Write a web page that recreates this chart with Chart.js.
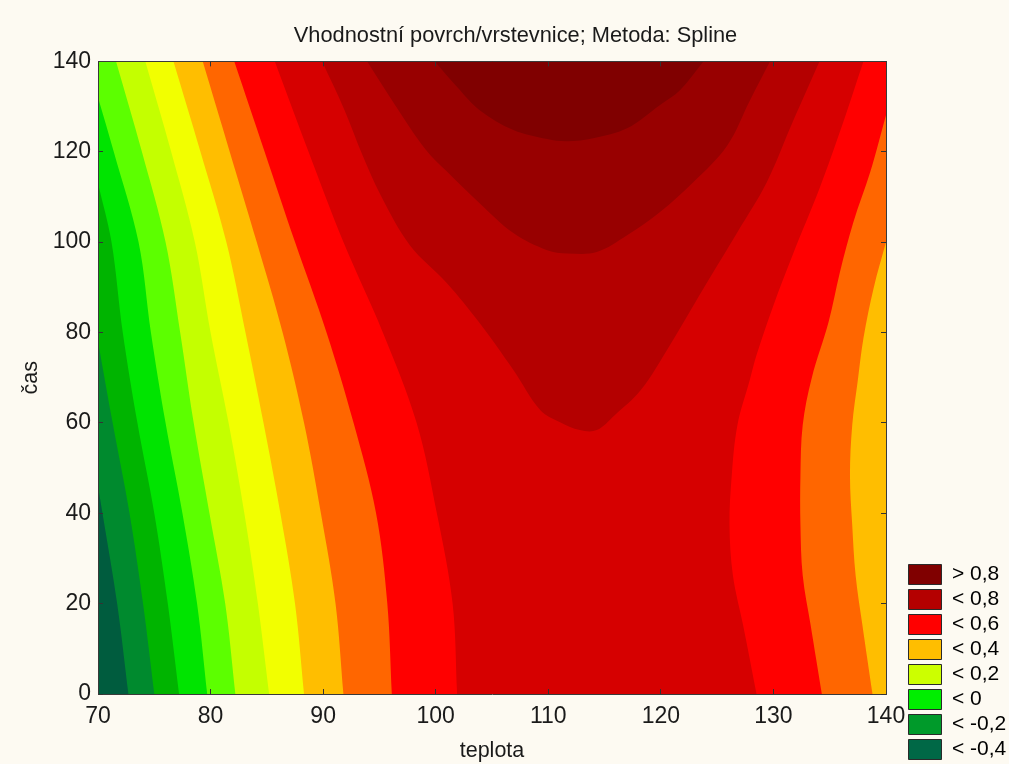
<!DOCTYPE html>
<html>
<head>
<meta charset="utf-8">
<title>Vhodnostní povrch</title>
<script src="https://cdn.jsdelivr.net/npm/chart.js@4.4.1/dist/chart.umd.min.js"></script>
<style>
  html, body { margin: 0; padding: 0; background: #fdfaf2; }
  #wrap { width: 1009px; height: 764px; }
</style>
</head>
<body>
<div id="wrap"><canvas id="chart" width="1009" height="764"></canvas></div>
<script>
// axis ranges
const teplotaRange = [70, 140];
const casRange = [0, 140];

// fill colours of the contour bands, lowest level first
const bandColors = ['#005c3e', '#008a2e', '#00b400', '#00e400', '#5cff00', '#c4ff00', '#f2ff00',
                    '#ffbe00', '#ff6600', '#ff0000', '#d60000', '#b40000', '#980000', '#800000'];

const legendLabels = ['> 0,8', '< 0,8', '< 0,6', '< 0,4', '< 0,2', '< 0', '< -0,2', '< -0,4'];
const legendColors = ['#800000', '#b40000', '#ff0000', '#ffbe00', '#ccff00', '#00ee00', '#009a2a', '#006846'];

// isolines as [teplota, čas] pairs
// left-hand lines, from čas = 0 upwards (some end on the left edge)
const iso1 = [[72.7, 0], [71.7, 20], [70.4, 40], [70, 46]];
const iso2 = [[75.0, 0], [74.0, 20], [72.8, 40], [71.3, 60], [70, 78]];
const iso3 = [[77.2, 0], [76.2, 20], [75.0, 40], [73.5, 60], [72.2, 80], [71.2, 100], [70, 113]];
const iso4 = [[79.7, 0], [78.8, 20], [77.5, 40], [76.0, 60], [74.7, 80], [73.6, 100], [71.4, 120], [70, 132]];
const iso5 = [[82.2, 0], [81.3, 20], [79.9, 40], [78.5, 60], [77.3, 80], [76.0, 100], [73.9, 120], [71.6, 140]];
const iso6 = [[85.2, 0], [84.2, 20], [83.0, 40], [81.6, 60], [80.0, 80], [78.6, 100], [76.5, 120], [74.2, 140]];
const iso7 = [[88.3, 0], [87.5, 20], [86.2, 40], [84.7, 60], [83.1, 80], [81.4, 100], [79.1, 120], [76.7, 140]];
const iso8L = [[91.8, 0], [91.1, 20], [89.8, 40], [88.3, 60], [86.4, 80], [84.1, 100], [81.7, 120], [79.3, 140]];
const iso9L = [[96.1, 0], [95.7, 20], [94.7, 40], [92.7, 60], [90.3, 80], [87.5, 100], [84.8, 120], [82.1, 140]];
const iso10L = [[101.9, 0], [101.5, 20], [100.1, 40], [98.3, 60], [95.3, 80], [91.8, 100], [88.7, 120], [85.7, 140]];

// right-hand lines, from the top downwards
const iso8R = [[140, 100], [138.9, 89.8], [138.0, 78.8], [137.5, 69.5], [137.0, 59.5], [136.8, 48.4],
               [137.0, 37.4], [137.3, 26.3], [137.9, 15.3], [138.8, 0]];
const iso9R = [[140, 128.1], [138.6, 115.5], [137.1, 104.4], [135.9, 93.3], [134.9, 82.3], [133.4, 69.9],
               [132.6, 59.5], [132.4, 48.4], [132.4, 37.4], [132.6, 26.3], [133.3, 15.3], [134.3, 0]];
const iso10R = [[138.0, 140], [136.2, 126.5], [134.1, 111.9], [131.7, 97.1], [130.0, 86.0], [128.5, 75.0],
                [127.9, 69.5], [126.8, 59.5], [126.3, 48.4], [126.1, 37.4], [126.4, 26.3], [127.3, 15.3], [128.5, 0]];

// U-shaped lines hanging from the top edge
const iso11 = [[89.9, 140], [91.9, 129.2], [93.5, 119.2], [95.1, 110.4], [97.7, 99.3], [101.0, 90.9],
               [103.9, 82.1], [106.9, 71.7], [109.3, 62.8], [111.0, 60.2], [112.8, 58.4], [114.3, 58.4],
               [115.9, 61.7], [118.2, 67.2], [120.8, 77.2], [123.8, 89.8], [126.8, 102.2], [129.4, 113.2],
               [131.7, 126.5], [134.1, 140]];
const iso12 = [[93.9, 140], [96.4, 130.3], [99.1, 120.5], [101.0, 115.6], [103.9, 108.6], [106.9, 102.0],
               [109.9, 98.2], [111.7, 97.5], [114.3, 97.8], [117.0, 101.5], [119.9, 106.6], [122.9, 113.3],
               [125.9, 121.4], [127.9, 131.3], [129.7, 140]];
const iso13 = [[99.9, 140], [101.9, 134.3], [103.9, 129.2], [106.9, 124.8], [109.9, 122.8], [111.7, 122.3],
               [114.0, 123.0], [117.0, 125.2], [119.9, 130.3], [121.7, 133.6], [123.8, 140]];

const [x0, x1] = teplotaRange;
const [y0, y1] = casRange;

// doubling the end points keeps the spline from bulging where a line meets the frame
const pin = (line) => [line[0], ...line, line[line.length - 1]];
const corner = (x, y) => [[x, y], [x, y]];

// area to the right of a left-hand line
function rightOf(line) {
  let pts = pin(line);
  if (line[line.length - 1][0] === x0) pts = pts.concat(corner(x0, y1));
  return pts.concat(corner(x1, y1), corner(x1, y0));
}

// area between a left-hand and a right-hand line
function between(left, right) {
  let pts = pin(left);
  if (right[0][1] < y1) pts = pts.concat(corner(x1, y1));
  return pts.concat(pin(right));
}

const regions = [
  [].concat(corner(x0, y0), corner(x0, y1), corner(x1, y1), corner(x1, y0)),
  rightOf(iso1), rightOf(iso2), rightOf(iso3), rightOf(iso4), rightOf(iso5), rightOf(iso6), rightOf(iso7),
  between(iso8L, iso8R), between(iso9L, iso9R), between(iso10L, iso10R),
  pin(iso11), pin(iso12), pin(iso13)
];

const datasets = regions.map((pts, i) => ({
  data: pts.map(([x, y]) => ({ x, y })),
  showLine: true,
  fill: 'shape',
  backgroundColor: bandColors[i],
  borderColor: 'transparent',
  borderWidth: 0,
  pointRadius: 0,
  tension: 0.35,
  order: 100 - i
}));

const fontFamily = 'Arial, "Liberation Sans", sans-serif';
Chart.defaults.font.family = fontFamily;
Chart.defaults.color = '#1a1a1a';

const frame = { display: true, color: '#3a3a3a', width: 1, z: 1 };
// short tick marks pointing into the plot
const inwardTicks = { drawOnChartArea: false, drawTicks: true, tickLength: -5, tickColor: '#333', z: 1 };

new Chart(document.getElementById('chart'), {
  type: 'scatter',
  data: { datasets },
  options: {
    responsive: false,
    animation: false,
    events: [],
    layout: { padding: { left: 22, right: 0, top: 0, bottom: 0 } },
    scales: {
      x: {
        type: 'linear', position: 'bottom', min: x0, max: x1,
        ticks: { stepSize: 10, autoSkip: false, padding: 14, font: { size: 23 }, color: '#1a1a1a' },
        grid: inwardTicks,
        border: frame,
        title: { display: true, text: 'teplota', font: { size: 21.5 }, color: '#1a1a1a', padding: { top: 0, bottom: 0 } },
        afterFit: (s) => { s.height = 70; }
      },
      y: {
        type: 'linear', position: 'left', min: y0, max: y1,
        ticks: { stepSize: 20, autoSkip: false, padding: 12, font: { size: 23 }, color: '#1a1a1a' },
        grid: inwardTicks,
        border: frame,
        title: { display: true, text: 'čas', font: { size: 21.5 }, color: '#1a1a1a', padding: { top: -4, bottom: 0 } },
        afterFit: (s) => { s.width = 76; }
      },
      x2: {
        type: 'linear', position: 'top', min: x0, max: x1,
        ticks: { display: false, stepSize: 10 },
        grid: inwardTicks,
        border: frame,
        afterFit: (s) => { s.height = 12.2; }
      },
      y2: {
        type: 'linear', position: 'right', min: y0, max: y1,
        ticks: { display: false, stepSize: 20 },
        grid: inwardTicks,
        border: frame,
        afterFit: (s) => { s.width = 18.5; }
      }
    },
    plugins: {
      title: {
        display: true,
        text: 'Vhodnostní povrch/vrstevnice; Metoda: Spline',
        font: { size: 21.8, weight: 'normal' },
        color: '#1a1a1a',
        padding: { top: 23, bottom: 0 }
      },
      legend: {
        position: 'right',
        align: 'end',
        maxWidth: 104.5,
        labels: {
          boxWidth: 33,
          boxHeight: 20,
          padding: 4,
          font: { size: 21 },
          color: '#1a1a1a',
          generateLabels: () => legendLabels.map((text, i) => ({
            text,
            fillStyle: legendColors[i],
            strokeStyle: '#2a2a2a',
            lineWidth: 1,
            hidden: false,
            datasetIndex: i
          }))
        }
      },
      tooltip: { enabled: false }
    }
  }
});
</script>
</body>
</html>
